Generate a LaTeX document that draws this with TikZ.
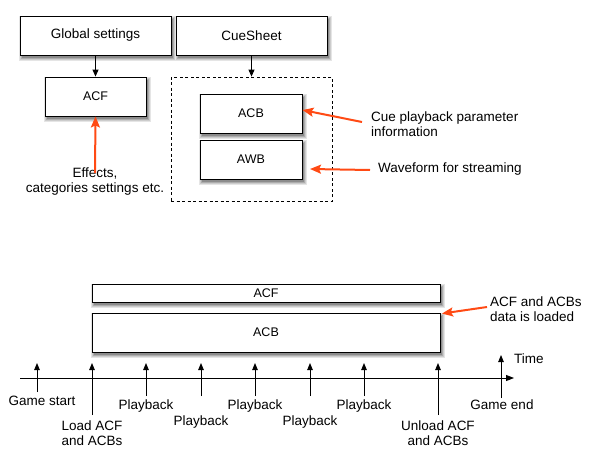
\documentclass[tikz,border=0pt]{standalone}
\usepackage{fontspec}
\setmainfont{Liberation Sans}
\usetikzlibrary{arrows.meta}
\definecolor{arroworange}{HTML}{FF4A14}
\definecolor{shadeA}{gray}{0.90}
\definecolor{shadeB}{gray}{0.80}
\definecolor{shadeC}{gray}{0.68}
\definecolor{shadeD}{gray}{0.55}
\begin{document}
\begin{tikzpicture}[x=1pt,y=-1pt]
\tikzset{
  lbl/.style={font=\fontsize{13.5}{15}\selectfont, inner sep=0pt, align=center},
  box/.style={draw=black, line width=0.9pt, fill=white, inner sep=0pt, font=\fontsize{12.5}{14}\selectfont},
  blackarrow/.style={draw=black, line width=0.9pt, -{Triangle[length=7pt,width=6pt]}},
  orangearrow/.style={draw=arroworange, line width=2pt, -{Stealth[length=11pt,width=9pt,inset=2pt]}},
  tickarrow/.style={draw=black, line width=0.9pt, -{Triangle[length=7pt,width=5.5pt]}}
}
\fill[white] (0,0) rectangle (591,463);
\useasboundingbox (0,0) rectangle (591,463);

% soft drop shadows, drawn first so that the boxes cover them
\foreach \xa/\ya/\xb/\yb in {20/16/171/55, 176/16/327/55, 45/77/146/116, 200/94/302/133,
  200/140/302/179, 92/284/440/302, 92/313/440/352} {
  \fill[shadeA] (\xa-1,\ya) rectangle (\xb+5,\yb+6);
  \fill[shadeB] (\xa,\ya+1) rectangle (\xb+4,\yb+5);
  \fill[shadeC] (\xa+1,\ya+2) rectangle (\xb+3,\yb+4);
  \fill[shadeD] (\xa+2,\ya+3) rectangle (\xb+2,\yb+3);
}

% ---- boxes ----
\node[box, minimum width=151pt, minimum height=39pt, font=\fontsize{13.5}{15}\selectfont] (global) at (95.5,35.5) {Global settings};
\node[box, minimum width=151pt, minimum height=39pt, font=\fontsize{13.5}{15}\selectfont] (cuesheet) at (251.5,35.5) {CueSheet};
\node[box, minimum width=101pt, minimum height=39pt] (acf) at (95.5,96.5) {ACF};
\node[draw=black, line width=0.8pt, dash pattern=on 3pt off 2.5pt, minimum width=161pt, minimum height=124pt, inner sep=0pt] (dash) at (251.5,139) {};
\node[box, minimum width=102pt, minimum height=39pt] (acb) at (251,113.5) {ACB};
\node[box, minimum width=102pt, minimum height=39pt] (awb) at (251,159.5) {AWB};
\node[box, minimum width=348pt, minimum height=18pt] (acfbar) at (266,293) {ACF};
\node[box, minimum width=348pt, minimum height=39pt] (acbbar) at (266,332.5) {ACB};

% ---- top connectors and labels ----
\draw[blackarrow] (global.south) -- (acf.north);
\draw[blackarrow] (cuesheet.south) -- (dash.north);

\node[lbl, anchor=north] (effects) at (95,168) {Effects,\\categories settings etc.};
\draw[orangearrow] ([yshift=-5pt]effects.north) -- (acf.south);

\node[lbl, align=left, anchor=west] (cue) at (371,124) {Cue playback parameter\\information};
\coordinate (cuestart) at (362,122);
\draw[orangearrow] (cuestart) -- ([yshift=3.5pt]acb.east);

\node[lbl, anchor=west] (wave) at (378,169.5) {Waveform for streaming};
\coordinate (waveend) at (310,169);
\draw[orangearrow] ([xshift=-8pt,yshift=-0.5pt]wave.west) -- (waveend);

% ---- bottom ----
\node[lbl, align=left, anchor=west] (loaded) at (490,309) {ACF and ACBs\\data is loaded};
\draw[orangearrow] ([xshift=-3pt,yshift=2pt]loaded.west) -- ([xshift=1.5pt,yshift=-1pt]acbbar.north east);

\coordinate (axisstart) at (20,378);
\coordinate (axisend) at (514,378);
\draw[black, line width=0.9pt, -{Triangle[length=8pt,width=6pt]}] (axisstart) -- (axisend);
\node[lbl, anchor=west] (time) at (514,359) {Time};

\foreach \nm/\xx/\yb/\yt in {t1/37/392/363, t2/92/415/363, t3/146/396/363, t4/201/396/363,
  t5/255/396/363, t6/310/396/363, t7/364/396/363, t8/438/415/363, t9/501/398/355} {
  \coordinate (\nm b) at (\xx,\yb);
  \coordinate (\nm t) at (\xx,\yt);
  \draw[tickarrow] (\nm b) -- (\nm t);
}

\node[lbl] (gs) at (42,401) {Game start};
\node[lbl] (load) at (92,433) {Load ACF\\and ACBs};
\node[lbl] (p1) at (146,406) {Playback};
\node[lbl] (p2) at (201,422) {Playback};
\node[lbl] (p3) at (255,406) {Playback};
\node[lbl] (p4) at (310,422) {Playback};
\node[lbl] (p5) at (364,406) {Playback};
\node[lbl] (unload) at (438,433) {Unload ACF\\and ACBs};
\node[lbl] (ge) at (502,405) {Game end};
\end{tikzpicture}
\end{document}
